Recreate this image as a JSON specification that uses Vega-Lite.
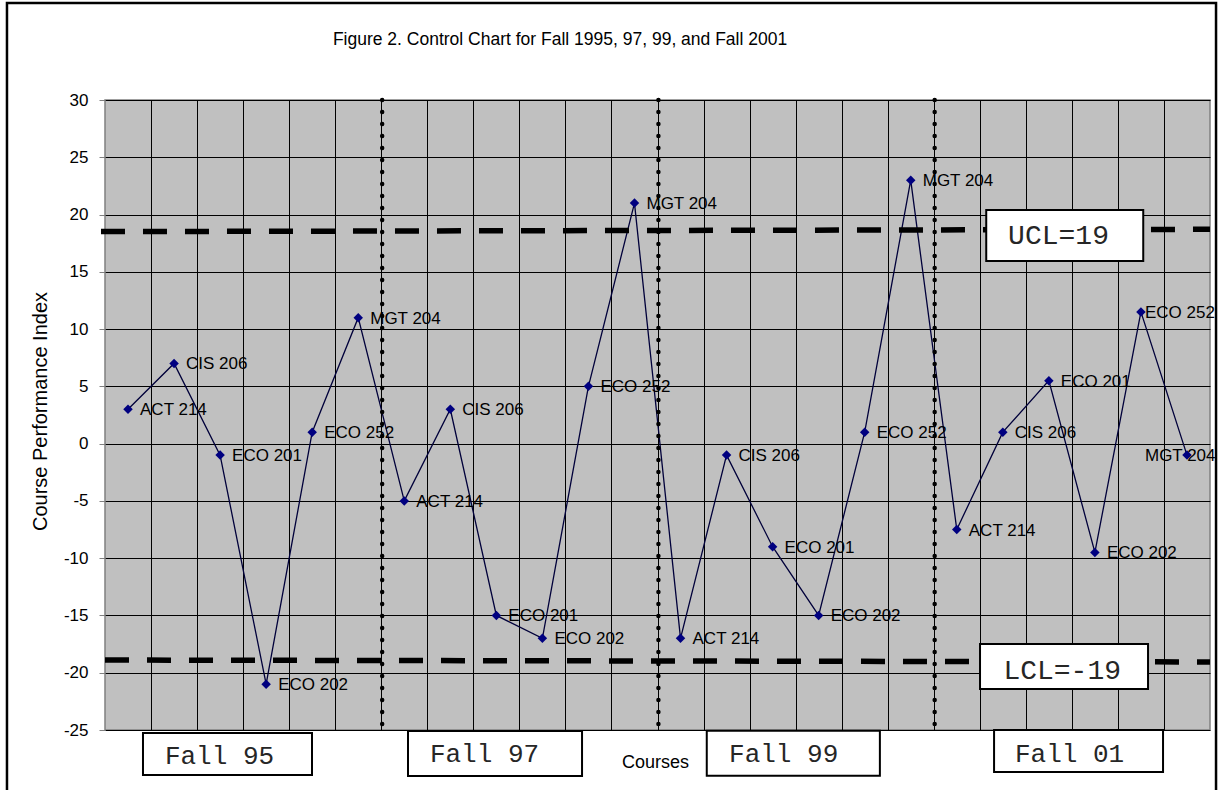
{
  "$schema": "https://vega.github.io/schema/vega-lite/v6.json",
  "width": 1105,
  "height": 630,
  "autosize": {"type": "none"},
  "padding": {"left": 105, "top": 100, "right": 8, "bottom": 60},
  "background": "white",
  "config": {
    "view": {"fill": "#C0C0C0", "stroke": "#808080", "strokeWidth": 1.5},
    "font": "Liberation Sans",
    "axis": {"gridColor": "#000000", "gridOpacity": 1, "gridWidth": 1}
  },
  "data": {
    "values": [
      {"n": 1, "term": "Fall 95", "course": "ACT 214", "cpi": 3},
      {"n": 2, "term": "Fall 95", "course": "CIS 206", "cpi": 7},
      {"n": 3, "term": "Fall 95", "course": "ECO 201", "cpi": -1},
      {"n": 4, "term": "Fall 95", "course": "ECO 202", "cpi": -21},
      {"n": 5, "term": "Fall 95", "course": "ECO 252", "cpi": 1},
      {"n": 6, "term": "Fall 95", "course": "MGT 204", "cpi": 11},
      {"n": 7, "term": "Fall 97", "course": "ACT 214", "cpi": -5},
      {"n": 8, "term": "Fall 97", "course": "CIS 206", "cpi": 3},
      {"n": 9, "term": "Fall 97", "course": "ECO 201", "cpi": -15},
      {"n": 10, "term": "Fall 97", "course": "ECO 202", "cpi": -17},
      {"n": 11, "term": "Fall 97", "course": "ECO 252", "cpi": 5},
      {"n": 12, "term": "Fall 97", "course": "MGT 204", "cpi": 21},
      {"n": 13, "term": "Fall 99", "course": "ACT 214", "cpi": -17},
      {"n": 14, "term": "Fall 99", "course": "CIS 206", "cpi": -1},
      {"n": 15, "term": "Fall 99", "course": "ECO 201", "cpi": -9},
      {"n": 16, "term": "Fall 99", "course": "ECO 202", "cpi": -15},
      {"n": 17, "term": "Fall 99", "course": "ECO 252", "cpi": 1},
      {"n": 18, "term": "Fall 99", "course": "MGT 204", "cpi": 23},
      {"n": 19, "term": "Fall 01", "course": "ACT 214", "cpi": -7.5},
      {"n": 20, "term": "Fall 01", "course": "CIS 206", "cpi": 1},
      {"n": 21, "term": "Fall 01", "course": "ECO 201", "cpi": 5.5},
      {"n": 22, "term": "Fall 01", "course": "ECO 202", "cpi": -9.5},
      {"n": 23, "term": "Fall 01", "course": "ECO 252", "cpi": 11.5},
      {"n": 24, "term": "Fall 01", "course": "MGT 204", "cpi": -1}
    ]
  },
  "layer": [
    {
      "encoding": {
        "x": {
          "field": "n",
          "type": "quantitative",
          "scale": {"domain": [0.5, 24.5], "nice": false, "zero": false},
          "axis": {
            "values": [1.5, 2.5, 3.5, 4.5, 5.5, 6.5, 7.5, 8.5, 9.5, 10.5, 11.5, 12.5, 13.5, 14.5, 15.5, 16.5, 17.5, 18.5, 19.5, 20.5, 21.5, 22.5, 23.5],
            "labels": false,
            "ticks": false,
            "domain": false,
            "grid": true,
            "title": "Courses",
            "titleFont": "Liberation Sans",
            "titleFontSize": 18,
            "titleFontWeight": "normal",
            "titleColor": "#000000",
            "titleX": 550,
            "titleY": 37,
            "titleBaseline": "alphabetic",
            "titleAlign": "center"
          }
        },
        "y": {
          "field": "cpi",
          "type": "quantitative",
          "scale": {"domain": [-25, 30], "nice": false, "zero": false},
          "axis": {
            "values": [-25, -20, -15, -10, -5, 0, 5, 10, 15, 20, 25, 30],
            "labelExpr": "datum.value < 0 ? '-' + abs(datum.value) : '' + datum.value",
            "grid": true,
            "domain": false,
            "ticks": true,
            "tickSize": 6,
            "tickColor": "#808080",
            "labelPadding": 11,
            "labelFont": "Liberation Sans",
            "labelFontSize": 17,
            "labelColor": "#000000",
            "title": "Course Performance Index",
            "titleFont": "Liberation Sans",
            "titleFontSize": 20,
            "titleFontWeight": "normal",
            "titleColor": "#000000",
            "titleAngle": 270,
            "titleX": -65,
            "titleY": 311,
            "titleAlign": "center",
            "titleBaseline": "middle"
          }
        }
      },
      "layer": [
        {"mark": {"type": "line", "color": "#00003a", "strokeWidth": 1.3}},
        {"mark": {"type": "point", "shape": "diamond", "filled": true, "fill": "#000080", "size": 90, "strokeWidth": 0, "opacity": 1}},
        {
          "transform": [{"filter": "datum.n != 23 && datum.n != 24"}],
          "mark": {"type": "text", "align": "left", "baseline": "middle", "dx": 12, "dy": 1, "font": "Liberation Sans", "fontSize": 17, "color": "#000000"},
          "encoding": {"text": {"field": "course"}}
        },
        {
          "transform": [{"filter": "datum.n == 23"}],
          "mark": {"type": "text", "align": "left", "baseline": "middle", "dx": 4, "dy": 1, "font": "Liberation Sans", "fontSize": 17, "color": "#000000"},
          "encoding": {"text": {"field": "course"}}
        },
        {
          "transform": [{"filter": "datum.n == 24"}],
          "mark": {"type": "text", "align": "left", "baseline": "middle", "dx": -42, "dy": 1, "font": "Liberation Sans", "fontSize": 17, "color": "#000000"},
          "encoding": {"text": {"field": "course"}}
        }
      ]
    },
    {
      "data": {"values": [{}]},
      "mark": {"type": "rect", "fill": null, "fillOpacity": 0, "stroke": "#000000", "strokeWidth": 2.5},
      "encoding": {"x": {"datum": -1.629}, "x2": {"datum": 24.631}, "y": {"datum": 38.47}, "y2": {"datum": -30.7}}
    },
    {
      "data": {"values": [{}]},
      "mark": {"type": "rule", "color": "#000000", "strokeWidth": 4.5, "strokeDash": [0, 12], "strokeCap": "round"},
      "encoding": {"x": {"datum": 6.52}, "y": {"datum": 30}, "y2": {"datum": -25}}
    },
    {
      "data": {"values": [{}]},
      "mark": {"type": "rule", "color": "#000000", "strokeWidth": 4.5, "strokeDash": [0, 12], "strokeCap": "round"},
      "encoding": {"x": {"datum": 12.52}, "y": {"datum": 30}, "y2": {"datum": -25}}
    },
    {
      "data": {"values": [{}]},
      "mark": {"type": "rule", "color": "#000000", "strokeWidth": 4.5, "strokeDash": [0, 12], "strokeCap": "round"},
      "encoding": {"x": {"datum": 18.52}, "y": {"datum": 30}, "y2": {"datum": -25}}
    },
    {
      "data": {"values": [{}]},
      "mark": {"type": "rule", "color": "#000000", "strokeWidth": 5.5, "strokeDash": [24, 18], "strokeCap": "butt"},
      "encoding": {"x": {"datum": 0.413}, "x2": {"datum": 24.5}, "y": {"datum": 18.51}, "y2": {"datum": 18.71}}
    },
    {
      "data": {"values": [{}]},
      "mark": {"type": "rule", "color": "#000000", "strokeWidth": 5.5, "strokeDash": [24, 18], "strokeCap": "butt"},
      "encoding": {"x": {"datum": 0.5}, "x2": {"datum": 24.5}, "y": {"datum": -18.89}, "y2": {"datum": -19.06}}
    },
    {
      "data": {"values": [{}]},
      "mark": {"type": "rect", "fill": "#ffffff", "stroke": "#000000", "strokeWidth": 2},
      "encoding": {"x": {"datum": 19.64}, "x2": {"datum": 23.05}, "y": {"datum": 20.4}, "y2": {"datum": 15.94}}
    },
    {
      "data": {"values": [{}]},
      "mark": {"type": "text", "text": "UCL=19", "font": "Liberation Mono", "fontSize": 28, "align": "center", "baseline": "alphabetic", "color": "#262626"},
      "encoding": {"x": {"datum": 21.21}, "y": {"datum": 17.43}}
    },
    {
      "data": {"values": [{}]},
      "mark": {"type": "rect", "fill": "#ffffff", "stroke": "#000000", "strokeWidth": 2},
      "encoding": {"x": {"datum": 19.505}, "x2": {"datum": 23.154}, "y": {"datum": -17.49}, "y2": {"datum": -21.42}}
    },
    {
      "data": {"values": [{}]},
      "mark": {"type": "text", "text": "LCL=-19", "font": "Liberation Mono", "fontSize": 28, "align": "center", "baseline": "alphabetic", "color": "#262626"},
      "encoding": {"x": {"datum": 21.29}, "y": {"datum": -20.52}}
    },
    {
      "data": {"values": [{}]},
      "mark": {"type": "rect", "fill": "#ffffff", "stroke": "#000000", "strokeWidth": 2},
      "encoding": {"x": {"datum": 1.325}, "x2": {"datum": 4.996}, "y": {"datum": -25.26}, "y2": {"datum": -28.93}}
    },
    {
      "data": {"values": [{}]},
      "mark": {"type": "text", "text": "Fall 95", "font": "Liberation Mono", "fontSize": 26, "align": "center", "baseline": "alphabetic", "color": "#262626"},
      "encoding": {"x": {"datum": 2.987}, "y": {"datum": -27.97}}
    },
    {
      "data": {"values": [{}]},
      "mark": {"type": "rect", "fill": "#ffffff", "stroke": "#000000", "strokeWidth": 2},
      "encoding": {"x": {"datum": 7.081}, "x2": {"datum": 10.861}, "y": {"datum": -25.09}, "y2": {"datum": -29.02}}
    },
    {
      "data": {"values": [{}]},
      "mark": {"type": "text", "text": "Fall 97", "font": "Liberation Mono", "fontSize": 26, "align": "center", "baseline": "alphabetic", "color": "#262626"},
      "encoding": {"x": {"datum": 8.743}, "y": {"datum": -27.77}}
    },
    {
      "data": {"values": [{}]},
      "mark": {"type": "rect", "fill": "#ffffff", "stroke": "#000000", "strokeWidth": 2},
      "encoding": {"x": {"datum": 13.57}, "x2": {"datum": 17.33}, "y": {"datum": -25.06}, "y2": {"datum": -29.0}}
    },
    {
      "data": {"values": [{}]},
      "mark": {"type": "text", "text": "Fall 99", "font": "Liberation Mono", "fontSize": 26, "align": "center", "baseline": "alphabetic", "color": "#262626"},
      "encoding": {"x": {"datum": 15.24}, "y": {"datum": -27.77}}
    },
    {
      "data": {"values": [{}]},
      "mark": {"type": "rect", "fill": "#ffffff", "stroke": "#000000", "strokeWidth": 2},
      "encoding": {"x": {"datum": 19.81}, "x2": {"datum": 23.48}, "y": {"datum": -25.0}, "y2": {"datum": -28.66}}
    },
    {
      "data": {"values": [{}]},
      "mark": {"type": "text", "text": "Fall 01", "font": "Liberation Mono", "fontSize": 26, "align": "center", "baseline": "alphabetic", "color": "#262626"},
      "encoding": {"x": {"datum": 21.45}, "y": {"datum": -27.79}}
    },
    {
      "data": {"values": [{}]},
      "mark": {"type": "text", "text": "Figure 2. Control Chart for Fall 1995, 97, 99, and Fall 2001", "font": "Liberation Sans", "fontSize": 17.5, "align": "center", "baseline": "alphabetic", "color": "#000000"},
      "encoding": {"x": {"datum": 10.383}, "y": {"datum": 34.8}}
    }
  ]
}
